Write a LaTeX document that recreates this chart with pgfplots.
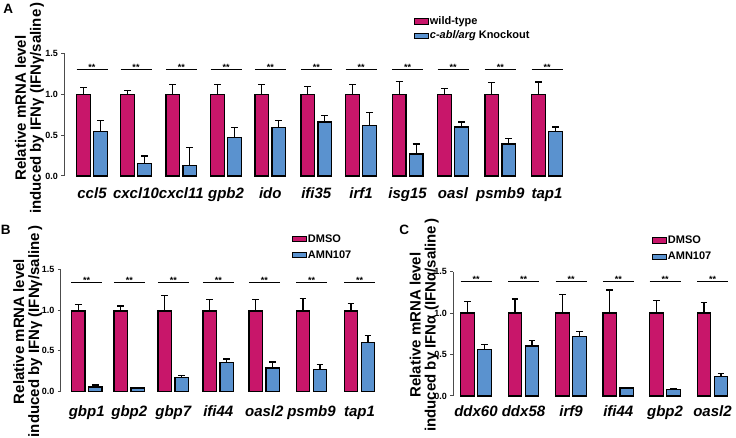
\documentclass[border=0pt]{standalone}
\usepackage{fontspec}
\setmainfont{Liberation Sans}
\usepackage{pgfplots}
\pgfplotsset{compat=1.18}
\usepackage{pgfplotstable}
\definecolor{wtpink}{RGB}{200,22,106}
\definecolor{koblue}{RGB}{90,146,207}

% Panel A: x = category position (pt from the y axis), wild-type vs c-abl/arg knockout
\pgfplotstableread{
x wt wterr ko koerr
27.7  1.00 0.08  0.54  0.14
71.7  1.00 0.045 0.155 0.09
117   1.00 0.12  0.127 0.22
161.7 1.00 0.12  0.47  0.12
206   1.00 0.12  0.59  0.09
252   1.00 0.095 0.66  0.075
296.7 1.00 0.12  0.62  0.16
343.3 1.00 0.16  0.27  0.12
388.7 1.00 0.07  0.60  0.06
436   1.00 0.14  0.39  0.07
482.7 1.00 0.15  0.54  0.06
}\dataA
% Panel B: DMSO vs AMN107 (IFNgamma)
\pgfplotstableread{
x wt wterr ko koerr
25.7  0.99 0.08 0.056 0.025
68.3  0.99 0.06 0.044 0.012
112.3 0.99 0.19 0.177 0.02
157.3 0.99 0.14 0.36  0.04
203.3 0.99 0.14 0.29  0.075
250.5 0.99 0.15 0.27  0.06
298.5 0.99 0.09 0.60  0.09
}\dataB
% Panel C: DMSO vs AMN107 (IFNalpha)
\pgfplotstableread{
x wt wterr ko koerr
22.7  1.00 0.14  0.56  0.065
70.2  1.00 0.17  0.605 0.06
117.7 1.00 0.22  0.72  0.06
165   1.00 0.28  0.097 0.01
211.7 1.00 0.15  0.077 0.008
259.2 1.00 0.125 0.234 0.04
}\dataC

\tikzset{
  sig/.style={black, line width=1.1pt},
  stars/.style={anchor=south, inner sep=0pt, yshift=-1.5pt, font=\fontsize{9}{9}\selectfont\bfseries},
}
\pgfplotsset{
  fig/.style={
    scale only axis, clip=false,
    xmin=0, ymin=0, ymax=1.5,
    ytick={0,0.5,1,1.5},
    yticklabels={0.0,0.5,1.0,1.5},
    axis y line*=left, axis x line*=bottom,
    y axis line style={black!70, line width=1pt, -},
    x axis line style={draw opacity=0, -},
    xtick style={draw opacity=0},
    ytick style={black!70, line width=1pt},
    tick align=outside, major tick length=3pt,
    yticklabel style={font=\fontsize{9}{10}\selectfont\bfseries, black},
    xticklabel style={font=\fontsize{15}{18}\selectfont\bfseries\itshape, anchor=base},
    ylabel style={align=center, font=\fontsize{15}{15}\selectfont\bfseries, anchor=center},
    legend style={draw=none, fill=none, inner sep=0pt, outer sep=0pt,
      font=\fontsize{11}{13}\selectfont\bfseries, anchor=north west,
      nodes={inner sep=0.7pt},
      /tikz/every even column/.append style={column sep=2pt}},
    legend cell align=left,
    legend image code/.code={\filldraw[#1, line width=0.9pt] (0pt,-2.6pt) rectangle (14pt,2.6pt);},
  },
  barbase/.style={ybar, bar width=13.5pt, bar shift=0pt, black, line width=1.3pt,
    /pgfplots/error bars/y dir=plus,
    /pgfplots/error bars/y explicit,
    /pgfplots/error bars/error bar style={line width=1.2pt, black},
    /pgfplots/error bars/error mark options={rotate=90, mark size=3.4pt, line width=1.2pt, black}},
  wtbar/.style={barbase, fill=wtpink},
  kobar/.style={barbase, fill=koblue},
}

\begin{document}
\begin{tikzpicture}
\useasboundingbox (0pt,0pt) rectangle (736pt,438pt);

% ---------------- Panel A ----------------
\begin{axis}[fig, at={(64.3pt,262pt)}, anchor=south west,
  width=515.7pt, height=122.7pt, xmax=515.7,
  xtick={27.7,71.7,117,161.7,206,252,296.7,343.3,388.7,436,482.7},
  xticklabels={ccl5,cxcl10,cxcl11,gpb2,ido,ifi35,irf1,isg15,oasl,psmb9,tap1},
  xticklabel style={yshift=-20pt},
  ylabel={Relative mRNA level\\induced by IFNγ (IFNγ/saline\,)},
  ylabel style={at={(axis description cs:-0.0675,0.554)}},
  legend style={at={(axis cs:350,1.955)}, row sep=3.2pt},
]
\addplot[wtbar] table[x expr=\thisrow{x}-8.5, y=wt, y error=wterr] {\dataA};
\addplot[kobar] table[x expr=\thisrow{x}+8.5, y=ko, y error=koerr] {\dataA};
\legend{wild-type, \textit{c-abl/arg} Knockout}
\pgfplotsinvokeforeach{27.7,71.7,117,161.7,206,252,296.7,343.3,388.7,436,482.7}{
  \draw[sig] ([xshift=-15.5pt]axis cs:#1,1.30) -- ([xshift=15.5pt]axis cs:#1,1.30);
  \node[stars] at (axis cs:#1,1.30) {**};
}
\end{axis}

% ---------------- Panel B ----------------
\begin{axis}[fig, at={(61pt,46.3pt)}, anchor=south west,
  width=324pt, height=122.4pt, xmax=324,
  xtick={25.7,68.3,112.3,157.3,203.3,250.5,298.5},
  xticklabels={gbp1,gbp2,gbp7,ifi44,oasl2,psmb9,tap1},
  xticklabel style={yshift=-22pt},
  ylabel={Relative mRNA level\\induced by IFNγ (IFNγ/saline\,)},
  ylabel style={at={(axis description cs:-0.1025,0.492)}},
  legend style={at={(axis cs:231.3,1.936)}, row sep=5.5pt},
]
\addplot[wtbar] table[x expr=\thisrow{x}-8.5, y=wt, y error=wterr] {\dataB};
\addplot[kobar] table[x expr=\thisrow{x}+8.5, y=ko, y error=koerr] {\dataB};
\legend{DMSO, AMN107}
\pgfplotsinvokeforeach{25.7,68.3,112.3,157.3,203.3,250.5,298.5}{
  \draw[sig] ([xshift=-15.5pt]axis cs:#1,1.34) -- ([xshift=15.5pt]axis cs:#1,1.34);
  \node[stars] at (axis cs:#1,1.34) {**};
}
\end{axis}

% ---------------- Panel C ----------------
\begin{axis}[fig, at={(453.3pt,42pt)}, anchor=south west,
  width=281.7pt, height=124.3pt, xmax=281.7,
  xtick={22.7,70.2,117.7,165,211.7,259.2},
  xticklabels={ddx60,ddx58,irf9,ifi44,gbp2,oasl2},
  xticklabel style={yshift=-17.5pt},
  ylabel={Relative mRNA level\\induced by IFNα (IFNα/saline\,)},
  ylabel style={at={(axis description cs:-0.1033,0.571)}},
  legend style={at={(axis cs:199,1.94)}, row sep=5.5pt},
]
\addplot[wtbar] table[x expr=\thisrow{x}-8.5, y=wt, y error=wterr] {\dataC};
\addplot[kobar] table[x expr=\thisrow{x}+8.5, y=ko, y error=koerr] {\dataC};
\legend{DMSO, AMN107}
\pgfplotsinvokeforeach{22.7,70.2,117.7,165,211.7,259.2}{
  \draw[sig] ([xshift=-15.5pt]axis cs:#1,1.38) -- ([xshift=15.5pt]axis cs:#1,1.38);
  \node[stars] at (axis cs:#1,1.38) {**};
}
\end{axis}

% panel letters
\node[font=\fontsize{13.5}{14}\selectfont\bfseries] at (8.3pt,429.3pt) {A};
\node[font=\fontsize{13.5}{14}\selectfont\bfseries] at (5.8pt,208.3pt) {B};
\node[font=\fontsize{13.5}{14}\selectfont\bfseries] at (404.3pt,208.3pt) {C};
\end{tikzpicture}
\end{document}
